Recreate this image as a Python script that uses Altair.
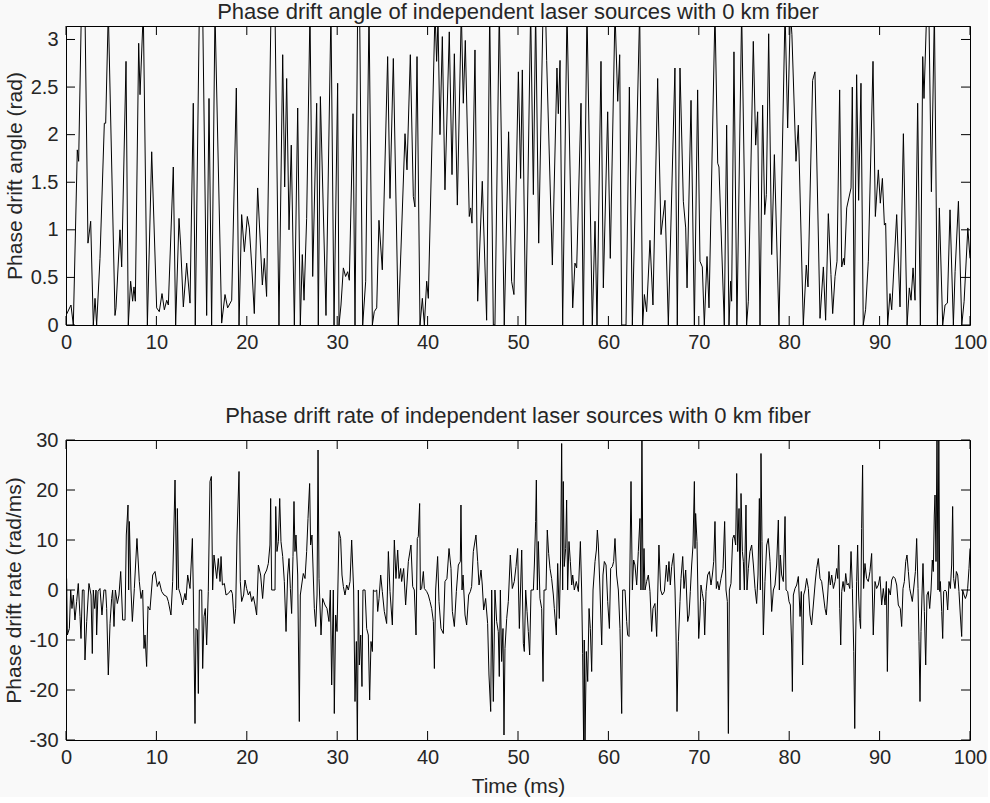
import altair as alt
import pandas as pd

# ---------------- data: phase drift angle (rad) vs time (ms) ----------------
angle_seg1 = [(0.0,0.10),(0.55,0.21),(0.81,0.0),(1.25,1.84),(1.40,1.72),(1.70,3.3),(2.10,3.3),(2.43,0.86),(2.73,1.09),(3.02,0.0),(3.21,0.28),(3.39,0.0),(3.76,0.70),(4.24,2.12),(4.39,2.12),(4.68,3.3),(5.42,0.10),(5.53,0.18),(5.97,1.00),(6.16,0.61),(6.64,2.77),(6.89,0.0),(7.15,0.46),(7.37,0.25),(7.52,0.40),(7.67,0.25),(8.04,2.96),(8.19,2.42),(8.55,3.3),(9.00,0.0),(9.48,1.82),(10.03,0.18),(10.32,0.14),(10.62,0.33),(10.88,0.16),(11.14,0.26),(11.32,0.21),(11.87,1.66),(12.13,0.0),(12.50,1.12),(12.68,0.84),(12.98,0.19),(13.35,0.65),(13.72,0.23),(14.08,2.33),(14.30,0.0),(14.75,3.3),(15.12,3.3),(15.56,0.10),(15.82,2.38),(16.11,0.0),(16.48,3.3)]
angle_seg2 = [(17.22,0.02),(17.59,0.32),(17.88,0.18),(18.33,0.26),(18.84,2.49),(19.14,0.0),(19.43,1.16),(19.73,0.77),(20.06,1.14),(20.28,1.02),(20.54,0.63),(20.83,0.12),(21.20,1.44),(21.72,0.42),(21.94,0.70),(22.19,0.30),(22.68,3.3),(23.12,3.3),(23.56,0.0),(23.97,2.84),(24.19,1.45),(24.41,2.59),(24.67,1.00),(24.92,1.89),(25.26,0.0),(25.63,2.28),(25.92,0.0),(26.14,0.74),(26.33,0.26),(26.62,1.12),(26.99,3.3),(27.29,0.51),(27.73,2.33),(27.91,0.0),(28.14,2.40),(28.76,0.10),(29.31,3.3),(29.65,0.0),(30.05,2.54),(30.20,0.0),(30.42,0.21),(30.68,0.60),(30.93,0.51),(31.16,0.56),(31.34,0.47),(31.75,2.22),(31.97,0.0),(32.26,3.3),(32.48,3.3),(32.82,0.0),(33.15,0.46),(33.52,3.3)]
angle_seg3 = [(33.89,0.0),(34.10,0.14),(34.37,0.18),(34.62,1.10),(34.99,0.58),(35.58,2.82),(35.84,1.33),(36.21,2.80),(36.76,0.0),(37.50,2.01),(37.72,1.63),(38.09,2.84),(38.42,1.35),(38.60,1.24),(38.83,2.82),(39.16,0.0),(39.42,0.28),(39.64,0.0),(39.90,0.46),(40.08,0.28),(40.82,3.3),(41.00,2.77),(41.15,3.2),(41.37,2.00),(41.63,3.03),(41.92,1.42),(42.40,3.08),(42.70,1.58),(42.96,2.85),(43.29,1.26),(43.73,3.3),(43.95,2.33),(44.17,2.99),(44.61,1.14),(44.76,1.23),(44.91,1.07),(45.24,2.89),(45.54,0.25),(46.05,1.51),(46.53,0.05),(46.87,3.3),(47.27,0.0),(47.45,0.0),(47.93,3.3),(48.48,0.0),(48.96,2.03),(49.29,0.46),(49.55,0.32)]
angle_seg4 = [(50.04,2.66),(50.29,1.54),(50.48,2.68),(50.85,0.0),(51.40,3.3),(51.70,1.37),(51.95,3.3),(52.29,0.86),(52.77,3.3),(53.05,3.3),(53.17,2.78),(53.80,0.63),(54.31,2.70),(54.46,2.22),(54.65,2.78),(54.94,0.0),(55.42,3.3),(56.05,0.18),(56.30,0.65),(56.49,0.60),(56.97,2.33),(57.22,0.0),(57.63,3.3),(58.22,0.0),(58.52,1.09),(58.74,0.0),(59.18,2.77),(59.44,0.39),(59.92,2.24),(60.21,0.70),(60.73,3.3),(61.03,2.35),(61.25,2.84),(61.47,0.0),(61.95,0.0),(62.32,2.50),(62.65,0.0),(63.46,3.3),(63.79,0.0),(63.98,0.32),(64.23,0.14),(64.60,0.89),(64.93,0.21),(65.45,2.59),(65.82,0.95),(66.26,1.31),(66.63,0.0)]
angle_seg5 = [(67.36,2.70),(67.62,0.0),(67.92,2.70),(68.29,1.30),(68.55,1.02),(68.70,0.39),(69.14,2.36),(69.51,0.0),(69.87,2.47),(70.13,0.67),(70.39,0.61),(70.61,0.0),(70.91,0.72),(71.13,0.18),(71.79,3.3),(72.09,1.70),(72.23,1.66),(72.82,0.0),(73.08,2.10),(73.34,0.0),(73.52,0.46),(73.63,0.25),(73.89,2.87),(74.22,0.0),(74.74,3.3),(75.29,0.0),(75.48,0.25),(76.03,2.98),(76.29,1.89),(76.51,2.24),(76.77,0.0),(77.06,2.31),(77.29,1.16),(77.47,1.37),(77.73,3.06),(78.06,0.74),(78.36,1.79),(78.87,0.0),(79.54,3.3),(79.83,2.07),(80.13,3.3),(80.30,3.05),(80.75,1.72),(81.01,2.10),(81.56,0.0),(81.89,0.63),(82.08,0.40),(82.59,2.57),(82.85,2.66)]
angle_seg6 = [(83.41,0.07),(83.78,0.61),(84.03,0.05),(84.33,1.17),(84.62,0.53),(84.81,0.12),(85.07,0.51),(85.29,0.67),(85.58,2.47),(85.81,0.61),(86.00,0.70),(86.11,0.63),(86.36,1.23),(86.84,1.44),(86.98,2.50),(87.20,0.0),(87.46,2.63),(87.68,1.31),(87.94,2.54),(88.19,0.0),(88.45,0.16),(88.75,0.67),(89.27,2.77),(89.53,1.14),(89.86,1.63),(90.08,1.28),(90.31,1.54),(90.53,1.05),(90.67,1.07),(90.89,0.0),(91.15,0.33),(91.34,0.16),(91.89,1.16),(92.26,0.19),(92.63,2.01),(93.04,0.0),(93.29,0.39),(93.48,0.26),(93.70,0.60),(93.92,0.26),(94.21,2.33),(94.51,0.0),(94.77,2.82),(94.91,2.38),(95.21,3.3),(95.45,3.3),(95.73,1.40),(96.06,3.3),(96.39,0.0),(96.61,1.23),(96.98,0.0),(97.24,0.21),(97.50,0.23),(97.79,1.21),(98.16,0.0),(98.35,0.56),(98.72,1.30),(99.09,0.0),(99.35,0.25),(99.76,1.02),(100.0,0.70)]

# ---------------- data: phase drift rate (rad/ms) vs time (ms) ----------------
rate_seg1 = [(0.07,2.3),(0.15,-9),(0.37,-7.7),(0.52,0),(0.66,-3.7),(0.81,-1),(0.99,-6),(1.18,-2.3),(1.36,1.3),(1.55,-5.3),(1.66,-9.7),(1.81,0),(1.99,0),(2.10,-14),(2.29,-6.3),(2.54,1.3),(2.77,-1),(2.91,-12.7),(3.02,0),(3.17,-3.7),(3.32,0),(3.39,-9),(3.54,-0.3),(3.76,0.3),(3.98,-5),(4.20,0),(4.39,0),(4.50,-3.7),(4.68,-17),(4.87,-6.7),(5.05,-1.7),(5.16,0),(5.31,-7.3),(5.46,0),(5.68,-2.7),(5.86,-1),(6.05,3.7),(6.27,-6),(6.53,-6),(6.67,11),(6.86,17),(6.93,0),(7.01,13.7),(7.19,0),(7.34,-6.3),(7.56,0.3),(7.85,10.3),(8.11,1.7),(8.30,-1.7),(8.48,0),(8.63,-11.7),(8.74,-9),(8.92,-15.3),(9.07,-3.3),(9.29,-4),(9.59,3),(9.85,3.7),(10.10,0.7),(10.32,1.7),(10.58,-0.3),(10.84,-1),(11.14,-1.3),(11.32,-2.3),(11.61,-5),(11.80,1.7),(12.06,22),(12.24,0),(12.32,16.3),(12.46,0.3),(12.68,-1),(12.90,-3),(13.16,-0.7),(13.27,-2),(13.46,3),(13.72,0.3),(13.98,10.3),(14.08,0),(14.27,-26.7),(14.38,-7.7),(14.53,-8),(14.64,-20.7),(14.75,0),(15.01,0),(15.12,-15.7),(15.27,-5.3),(15.41,-3.7),(15.56,-11),(15.74,-0.3),(15.93,21.7),(16.08,22.7),(16.22,0),(16.37,7)]
rate_seg2 = [(16.67,2.3),(16.85,6.3),(17.04,1.7),(17.15,6.7),(17.30,1),(17.52,1.3),(17.70,-1),(17.96,-0.7),(18.25,0),(18.40,-0.7),(18.62,-6.7),(18.77,-3.7),(18.92,11),(19.14,23.7),(19.28,1.7),(19.43,-2.3),(19.65,-1),(19.80,2),(19.98,0.3),(20.17,-1),(20.35,-0.3),(20.54,-2.3),(20.72,-1.3),(20.91,-3),(21.09,-5),(21.28,5),(21.53,3),(21.75,-1.7),(21.94,3),(22.20,4),(22.38,5.3),(22.56,9),(22.64,18.3),(22.75,0),(23.12,0),(23.20,16.7),(23.34,7.7),(23.49,9.7),(23.64,18.3),(23.78,9.7),(23.97,6.7),(24.15,1.7),(24.34,-8.3),(24.52,3),(24.67,6.3),(24.82,0.3),(24.96,-4.7),(25.11,6.7),(25.22,17.7),(25.33,7.7),(25.44,11),(25.63,3),(25.81,-26.3),(25.92,-1),(26.07,1),(26.25,3.3),(26.44,2.3),(26.62,7.7),(26.77,14.3),(26.95,21.3),(27.06,9),(27.21,11),(27.47,-3.7),(27.62,-7.3),(27.77,-1),(27.88,28),(27.99,2.3),(28.21,-9),(28.39,-1.7),(28.65,-3),(28.87,-3.7),(29.09,-6.3),(29.24,0),(29.39,-19),(29.57,0),(29.68,-24.7),(29.83,-5),(29.98,-8.3),(30.20,11.7),(30.38,10.3),(30.53,3),(30.68,0.7),(30.86,-1),(31.05,1),(31.23,0),(31.42,1.7),(31.60,10),(31.82,0),(31.97,-22.3),(32.12,-10.3),(32.23,-31),(32.34,0),(32.45,-15),(32.60,-9),(32.74,-19.3),(32.85,0),(33.08,0)]
rate_seg3 = [(33.26,-7.7),(33.44,-9),(33.59,-22),(33.74,-10.3),(33.89,-12.3),(34.00,0),(34.18,-0.3),(34.37,0),(34.48,-4.3),(34.63,-1.7),(34.81,3),(34.99,-0.3),(35.21,-4.3),(35.47,-6.7),(35.66,7.7),(35.84,-0.3),(36.10,-7),(36.32,10),(36.50,2.3),(36.69,8),(36.84,2.3),(37.02,4.3),(37.13,1.7),(37.35,4.3),(37.57,-3),(37.87,5.7),(38.16,9),(38.35,0.7),(38.53,0),(38.72,-9),(38.86,10.3),(38.97,10.7),(39.12,17.3),(39.20,0),(39.34,0.3),(39.53,3.7),(39.64,0.3),(39.90,-0.3),(40.08,-1),(40.27,-2.3),(40.45,-3.7),(40.64,-6.3),(40.75,-15.7),(40.89,0),(41.11,6.7),(41.26,-2.3),(41.48,-7.7),(41.74,-8.7),(41.92,1.7),(42.14,2.3),(42.37,8.3),(42.59,4.3),(42.74,-4.3),(42.96,-7.3),(43.18,-0.3),(43.40,5),(43.62,5.7),(43.69,17),(43.81,0),(43.92,3),(44.14,-5),(44.32,-7),(44.54,-1),(44.73,-0.3),(44.87,0.7),(45.06,7.7),(45.35,11),(45.54,5.7),(45.69,1),(45.91,4),(46.05,1),(46.20,-4),(46.42,-1.7),(46.64,-6.7),(46.79,-17),(46.98,-24.3),(47.09,0),(47.27,-22.3),(47.45,0),(47.64,-6.3),(47.82,-8.3),(47.93,-17.3),(48.05,0),(48.19,-14.3),(48.34,-7.7),(48.45,-29),(48.56,-11.7),(48.75,-5.7),(48.93,-2.3),(49.15,7),(49.37,0.3),(49.59,1.7),(49.78,4.7),(49.96,8.3)]
rate_seg4 = [(50.15,-7.7),(50.41,8),(50.59,-10.7),(50.70,-12.3),(50.85,0),(51.00,-4.3),(51.14,-8.3),(51.29,-13),(51.44,0),(51.70,0),(51.81,5),(51.95,13.7),(52.03,22),(52.14,0),(52.25,9.7),(52.43,-1.7),(52.62,-3.7),(52.77,-18.3),(52.88,0),(53.10,0),(53.24,12),(53.39,7.3),(53.54,4.3),(53.72,2.3),(53.91,-1),(54.02,-3.7),(54.24,-9),(54.39,5.3),(54.57,-5.7),(54.72,7),(54.83,29.3),(54.94,0),(55.01,21.7),(55.12,4.7),(55.27,8.3),(55.38,18),(55.49,0),(55.64,9.7),(55.79,5.7),(55.94,1),(56.05,3),(56.23,0),(56.45,1.7),(56.68,-0.3),(56.90,9.7),(57.04,0),(57.15,-12.7),(57.26,-31),(57.33,-10),(57.41,-31),(57.56,-12.3),(57.71,-18.3),(57.86,-3.7),(58.00,-7.7),(58.15,-16.3),(58.30,0),(58.52,5.7),(58.67,8),(58.78,12),(58.89,9),(59.07,0),(59.26,-11),(59.40,3),(59.55,5.7),(59.74,5),(59.92,-2.3),(60.11,-7.7),(60.25,4.3),(60.44,4.7),(60.58,5.7),(60.73,10.3),(60.91,3),(61.10,0),(61.28,-7.7),(61.47,-24.7),(61.58,0),(61.84,0),(62.02,-6.3),(62.13,-9),(62.28,-9.3),(62.35,0),(62.50,21.7),(62.65,0),(62.79,6),(62.94,5),(63.13,1),(63.31,7.7),(63.49,14.3),(63.60,0),(63.71,31),(63.83,0),(63.94,8.3),(64.05,0),(64.23,1.7),(64.42,3),(64.60,-0.3),(64.79,-8.3),(64.93,-3.7),(65.15,-2.7),(65.34,-9.3),(65.59,9),(65.78,0),(65.96,-1),(66.19,-0.3)]
rate_seg5 = [(66.41,5),(66.56,1.7),(66.70,5.7),(66.85,1),(67.00,4.7),(67.22,7.3),(67.37,0),(67.48,-9),(67.59,-24.3),(67.74,-10.3),(67.92,-2.3),(68.03,2.3),(68.22,6.7),(68.36,0.3),(68.55,4),(68.77,-6.3),(68.92,-5),(69.06,-0.3),(69.21,5),(69.36,9),(69.51,21.7),(69.58,8.3),(69.65,15.3),(69.80,9.7),(69.99,-9.7),(70.13,-5),(70.24,1),(70.39,-0.7),(70.54,-2.3),(70.65,-9),(70.80,-0.3),(70.98,3),(71.17,3.7),(71.35,1),(71.50,3),(71.65,5.7),(71.79,13.7),(71.94,0.3),(72.09,1.7),(72.24,0),(72.46,2.3),(72.68,4.3),(72.86,13.7),(73.01,0),(73.16,-2.3),(73.27,-28.7),(73.38,0),(73.56,1.3),(73.75,10.3),(73.90,11),(74.08,9),(74.19,23.3),(74.30,7.7),(74.45,16.3),(74.56,0),(74.67,19.3),(74.82,7.7),(74.93,5.7),(75.04,0),(75.22,17),(75.33,0),(75.48,4.3),(75.66,7.7),(75.85,9),(76.04,5),(76.22,0.3),(76.40,-2.7),(76.55,3),(76.70,18.3),(76.81,0),(76.88,27.3),(76.99,9.7),(77.14,-9),(77.32,1.7),(77.51,9),(77.69,10.3),(77.88,5.7),(78.06,-4.3),(78.25,0),(78.43,1),(78.61,5),(78.80,14),(78.91,0),(79.02,7),(79.17,3),(79.35,1.7),(79.54,14.7),(79.65,0),(79.83,-0.3),(79.98,-2.3),(80.13,-3),(80.27,-11),(80.35,-20.3),(80.46,-1),(80.64,0.3),(80.83,1),(81.01,2.7),(81.20,-5.3),(81.34,-0.3),(81.49,-15),(81.60,-1),(81.75,0),(81.93,2.3),(82.12,0.3),(82.30,-5),(82.48,-7),(82.67,-3)]
rate_seg6 = [(82.90,2),(83.04,4.3),(83.22,6.3),(83.41,2.3),(83.59,1.7),(83.78,-1),(83.96,-3.7),(84.11,-5),(84.26,-1),(84.40,3.7),(84.55,1),(84.70,3),(84.89,0.3),(85.07,1.7),(85.25,4.3),(85.37,2.3),(85.48,9),(85.59,-3.7),(85.70,-11),(85.81,-0.3),(85.96,1.7),(86.11,-0.3),(86.25,3.3),(86.40,1),(86.55,1.3),(86.70,0.3),(86.84,7.7),(86.99,0.3),(87.14,-12.3),(87.25,-27.7),(87.36,-9),(87.46,1.7),(87.57,9),(87.68,-1),(87.79,-5.7),(87.90,-7.7),(88.01,12.3),(88.12,25),(88.23,0.3),(88.38,5.3),(88.56,2.3),(88.75,1.7),(88.93,3.7),(89.12,7.3),(89.30,-9),(89.49,1.7),(89.67,0.3),(89.86,1),(90.04,2.7),(90.23,-3),(90.41,0.3),(90.60,-3),(90.75,1.7),(90.86,-16.3),(91.00,0.3),(91.19,-1),(91.34,2),(91.52,2.7),(91.71,2.3),(91.89,1),(92.07,-3),(92.29,-3.7),(92.44,-7.3),(92.59,0.3),(92.74,1.7),(92.89,5.7),(93.03,7),(93.18,3.7),(93.33,0.3),(93.48,-1),(93.62,-2.3),(93.81,1),(93.96,3.7),(94.10,10.3),(94.25,0.3),(94.36,-10.3),(94.47,-22.3),(94.58,-8.3),(94.69,-1),(94.80,5.3),(94.95,-4.3),(95.10,-15),(95.24,-1),(95.39,-0.3),(95.54,-3.7),(95.69,0),(95.83,6),(95.94,3.7),(96.05,15),(96.13,19),(96.24,5.7),(96.35,31),(96.46,0),(96.55,31),(96.65,-0.3),(96.72,1.7),(96.87,-4.3),(96.98,-9.7),(97.09,-0.3),(97.24,0),(97.38,-0.3),(97.53,-4),(97.68,1.7),(97.83,0.3),(97.97,5),(98.08,16.7),(98.19,2.3),(98.34,0.3),(98.49,3.7),(98.64,3),(98.78,-0.3),(98.93,-5),(99.08,-9.3),(99.19,0),(99.34,-1),(99.49,-1.7),(99.63,-1),(99.74,0.3),(99.89,4.3),(100.0,8.3)]

x_ticks = [0, 10, 20, 30, 40, 50, 60, 70, 80, 90, 100]
angle_ticks = [0, 0.5, 1, 1.5, 2, 2.5, 3]
rate_ticks = [-30, -20, -10, 0, 10, 20, 30]

angle_title = "Phase drift angle of independent laser sources with 0 km fiber"
rate_title = "Phase drift rate of independent laser sources with 0 km fiber"

FONT = "Liberation Sans"
TXT = "#262626"
W = 904
TICK = 9
LABEL_FS = 20
AXTITLE_FS = 21
TITLE_FS = 22


def make_df(*segs):
    pts = [p for s in segs for p in s]
    return pd.DataFrame(pts, columns=["t", "v"])


def panel(df, ydomain, yticks, ytitle, title, height, xtitle):
    xscale = alt.Scale(domain=[0, 100], nice=False, zero=False)
    yscale = alt.Scale(domain=ydomain, nice=False, zero=False)
    xaxis_kw = dict(values=x_ticks, tickSize=0, domain=False, grid=False,
                    labelPadding=7, labelFontSize=LABEL_FS, labelFont=FONT,
                    labelColor=TXT, labelFlush=False)
    if xtitle:
        xaxis = alt.Axis(title=xtitle, titleFontSize=AXTITLE_FS, titleFont=FONT,
                         titleFontWeight="normal", titleColor=TXT,
                         titlePadding=8, **xaxis_kw)
    else:
        xaxis = alt.Axis(title=None, **xaxis_kw)
    yaxis = alt.Axis(values=yticks, tickSize=0, domain=False, grid=False,
                     labelPadding=8, labelFontSize=LABEL_FS, labelFont=FONT,
                     labelColor=TXT, labelExpr="'' + datum.value",
                     title=ytitle, titleFontSize=AXTITLE_FS, titleFont=FONT,
                     titleFontWeight="normal", titleColor=TXT, titlePadding=5)

    line = alt.Chart(df).mark_line(color="black", strokeWidth=1, clip=True).encode(
        x=alt.X("t:Q", scale=xscale, axis=xaxis),
        y=alt.Y("v:Q", scale=yscale, axis=yaxis),
    )
    xt = pd.DataFrame({"t": x_ticks})
    yt = pd.DataFrame({"v": yticks})
    tb = alt.Chart(xt).mark_rule(color="black", strokeWidth=1).encode(
        x=alt.X("t:Q", scale=xscale), y=alt.value(height), y2=alt.value(height - TICK))
    tt = alt.Chart(xt).mark_rule(color="black", strokeWidth=1).encode(
        x=alt.X("t:Q", scale=xscale), y=alt.value(0), y2=alt.value(TICK))
    tl = alt.Chart(yt).mark_rule(color="black", strokeWidth=1).encode(
        y=alt.Y("v:Q", scale=yscale), x=alt.value(0), x2=alt.value(TICK))
    tr = alt.Chart(yt).mark_rule(color="black", strokeWidth=1).encode(
        y=alt.Y("v:Q", scale=yscale), x=alt.value(W), x2=alt.value(W - TICK))
    return alt.layer(line, tb, tt, tl, tr).properties(
        width=W, height=height,
        title=alt.TitleParams(title, fontSize=TITLE_FS, font=FONT, fontWeight="normal",
                              color=TXT, offset=2, anchor="middle"),
    )


angle_df = make_df(angle_seg1, angle_seg2, angle_seg3, angle_seg4, angle_seg5, angle_seg6)
rate_df = make_df(rate_seg1, rate_seg2, rate_seg3, rate_seg4, rate_seg5, rate_seg6)

top = panel(angle_df, [0, 3.14159], angle_ticks, "Phase drift angle (rad)", angle_title, 299, None)
bottom = panel(rate_df, [-30, 30], rate_ticks, "Phase drift rate (rad/ms)", rate_title, 300, "Time (ms)")

chart = alt.vconcat(top, bottom, spacing=51).properties(
    padding={"left": 2, "top": 0, "right": 0, "bottom": 0},
    background="#f9f9f9",
).configure_view(stroke="black", strokeWidth=1).configure_concat(spacing=51)

chart.save("out.html", embed_options={"renderer": "svg", "actions": False})
